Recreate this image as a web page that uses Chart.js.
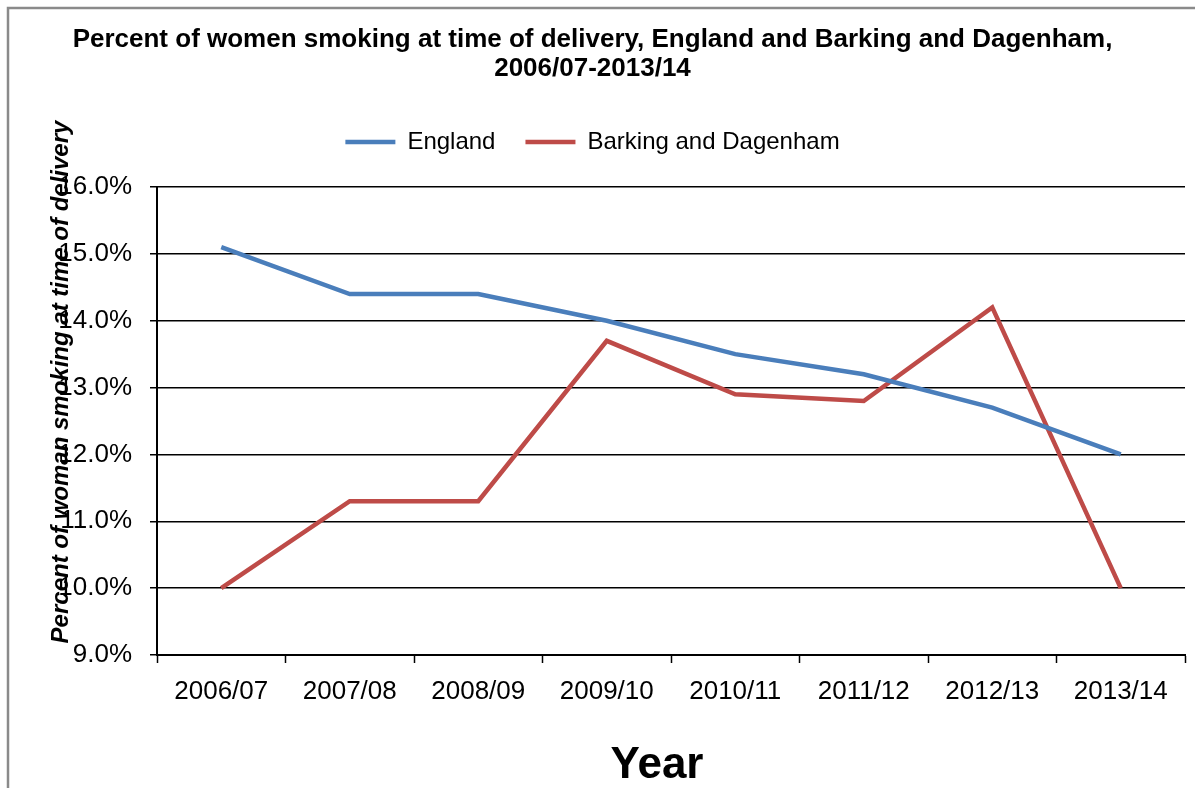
<!DOCTYPE html>
<html>
<head>
<meta charset="utf-8">
<title>Smoking at time of delivery</title>
<script src="https://cdn.jsdelivr.net/npm/chart.js@4.4.1/dist/chart.umd.min.js"></script>
<style>
  html, body { margin: 0; padding: 0; background: #fff; }
  canvas { display: block; }
</style>
</head>
<body>
<canvas id="chartSmoking" width="1195" height="788"></canvas>
<script>
const years = ['2006/07', '2007/08', '2008/09', '2009/10', '2010/11', '2011/12', '2012/13', '2013/14'];
const england = [15.1, 14.4, 14.4, 14.0, 13.5, 13.2, 12.7, 12.0];
const barking = [10.0, 11.3, 11.3, 13.7, 12.9, 12.8, 14.2, 10.0];

const titulo = [
    'Percent of women smoking at time of delivery, England and Barking and Dagenham,',
    '2006/07-2013/14'
];
const tituloY = 'Percent of woman smoking at time of delivery';
const tituloX = 'Year';

const fuente = '"Liberation Sans", Arial, sans-serif';
Chart.defaults.font.family = fuente;
Chart.defaults.color = '#000';

// grey frame on the left and top edges
const marco = {
    id: 'marco',
    beforeDraw(chart) {
        const c = chart.ctx;
        c.save();
        c.strokeStyle = '#8a8a8a';
        c.lineWidth = 2.5;
        c.beginPath();
        c.moveTo(8, chart.height);
        c.lineTo(8, 8);
        c.lineTo(chart.width, 8);
        c.stroke();
        c.restore();
    }
};

// axis titles: the vertical one sits over the tick labels
const titulosEjes = {
    id: 'titulosEjes',
    afterDraw(chart) {
        const c = chart.ctx;
        c.save();
        c.fillStyle = '#000';
        c.textAlign = 'center';
        c.textBaseline = 'middle';

        c.font = 'bold 44px ' + fuente;
        c.fillText(tituloX, 657, 766);

        c.translate(61, 382);
        c.rotate(-Math.PI / 2);
        c.font = 'italic bold 24px ' + fuente;
        c.fillText(tituloY, 0, 0);
        c.restore();
    }
};

const ctx = document.getElementById('chartSmoking').getContext('2d');

const chartSmoking = new Chart(ctx, {
    type: 'line',
    data: {
        labels: years,
        datasets: [{
            label: 'England',
            data: england,
            borderColor: '#4A7EBB',
            backgroundColor: '#4A7EBB',
            borderWidth: 4.5,
            pointRadius: 0,
            tension: 0
        }, {
            label: 'Barking and Dagenham',
            data: barking,
            borderColor: '#BE4B48',
            backgroundColor: '#BE4B48',
            borderWidth: 4.5,
            pointRadius: 0,
            tension: 0
        }]
    },
    options: {
        responsive: false,
        animation: false,
        devicePixelRatio: 1,
        layout: { padding: { left: 0, right: 10, top: 0, bottom: 0 } },
        plugins: {
            title: {
                display: true,
                text: titulo,
                color: '#000',
                font: { size: 26, weight: 'bold', lineHeight: 1.12 },
                padding: { top: 25, bottom: 16.8 }
            },
            legend: {
                position: 'top',
                labels: {
                    usePointStyle: true,
                    pointStyle: 'line',
                    pointStyleWidth: 50,
                    padding: 30,
                    color: '#000',
                    font: { size: 24 }
                }
            },
            // empty box between the legend and the plot, keeps the gap
            subtitle: {
                display: true,
                text: '',
                weight: 500,
                padding: 0,
                font: { size: 23, lineHeight: 1 }
            },
            tooltip: { enabled: false }
        },
        scales: {
            x: {
                offset: true,
                afterFit(scale) { scale.height = 133; },
                grid: {
                    offset: true,
                    drawOnChartArea: false,
                    tickLength: 8,
                    tickColor: '#000',
                    tickWidth: 1.5
                },
                border: { color: '#000', width: 2 },
                ticks: {
                    color: '#000',
                    font: { size: 26 },
                    padding: 13,
                    maxRotation: 0,
                    autoSkip: false
                }
            },
            y: {
                min: 9,
                max: 16,
                afterFit(scale) { scale.width = 157; },
                grid: {
                    color: '#000',
                    lineWidth: 1.5,
                    tickLength: 7,
                    tickColor: '#000'
                },
                border: { color: '#000', width: 2 },
                ticks: {
                    stepSize: 1,
                    color: '#000',
                    font: { size: 26 },
                    padding: 18,
                    callback: v => v.toFixed(1) + '%'
                }
            }
        }
    },
    plugins: [marco, titulosEjes]
});
</script>
</body>
</html>
